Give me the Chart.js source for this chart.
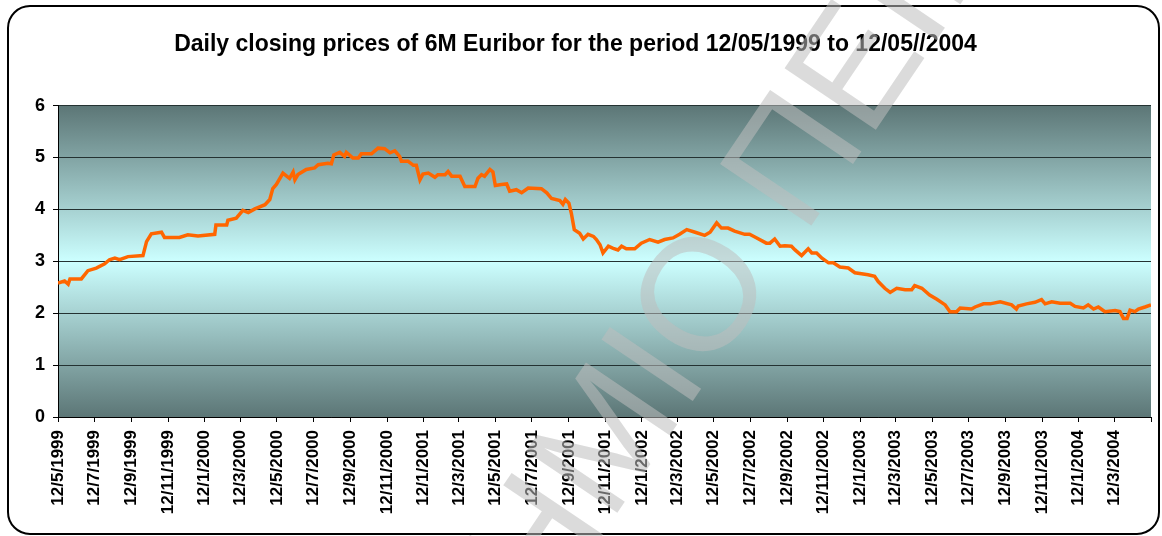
<!DOCTYPE html>
<html>
<head>
<meta charset="utf-8">
<script src="https://cdn.jsdelivr.net/npm/chart.js@4.4.0/dist/chart.umd.min.js"></script>
<style>
    html, body { margin: 0; padding: 0; background: #fff; }
    #wrap { width: 1162px; height: 536px; }
</style>
</head>
<body>
<div id="wrap"><canvas id="euriborChart"></canvas></div>
<script>
// 6M Euribor, daily closes
// x = days since 12/5/1999, y = rate (%)
const startDate = '12/5/1999';
const endDate = '12/5/2004';

const tickLabels = [
    '12/5/1999', '12/7/1999', '12/9/1999', '12/11/1999',
    '12/1/2000', '12/3/2000', '12/5/2000', '12/7/2000', '12/9/2000', '12/11/2000',
    '12/1/2001', '12/3/2001', '12/5/2001', '12/7/2001', '12/9/2001', '12/11/2001',
    '12/1/2002', '12/3/2002', '12/5/2002', '12/7/2002', '12/9/2002', '12/11/2002',
    '12/1/2003', '12/3/2003', '12/5/2003', '12/7/2003', '12/9/2003', '12/11/2003',
    '12/1/2004', '12/3/2004'
];

const days = [
    0, 11, 17, 20, 39, 50, 64, 78, 86, 95,
    103, 117, 142, 148, 156, 173, 178, 203, 217, 234,
    262, 264, 282, 284, 298, 309, 318, 329, 346, 354,
    359, 365, 376, 387, 393, 396, 401, 415, 429, 435,
    451, 457, 461, 471, 479, 482, 493, 502, 507, 524,
    535, 546, 555, 563, 571, 574, 585, 594, 599, 605,
    610, 619, 630, 635, 647, 652, 658, 672, 680, 697,
    702, 708, 713, 722, 727, 731, 741, 750, 755, 766,
    775, 786, 808, 817, 825, 839, 844, 848, 854, 858,
    863, 872, 878, 886, 895, 900, 906, 911, 920, 928,
    936, 942, 950, 964, 975, 989, 1003, 1014, 1028, 1039,
    1051, 1065, 1081, 1090, 1101, 1109, 1120, 1131, 1148, 1156,
    1168, 1184, 1190, 1198, 1207, 1215, 1226, 1232, 1243, 1254,
    1260, 1268, 1277, 1288, 1296, 1307, 1321, 1332, 1343, 1354,
    1365, 1371, 1382, 1391, 1402, 1416, 1427, 1432, 1444, 1457,
    1469, 1483, 1491, 1502, 1508, 1527, 1533, 1547, 1558, 1575,
    1594, 1602, 1605, 1619, 1633, 1644, 1650, 1661, 1675, 1692,
    1700, 1714, 1722, 1731, 1739, 1750, 1767, 1775, 1781, 1787,
    1792, 1800, 1806, 1817, 1827
];

const rates = [
    2.58, 2.62, 2.56, 2.66, 2.66, 2.82, 2.87, 2.95, 3.03, 3.06,
    3.03, 3.09, 3.11, 3.38, 3.53, 3.56, 3.46, 3.46, 3.51, 3.49,
    3.52, 3.70, 3.70, 3.79, 3.83, 3.98, 3.94, 4.01, 4.09, 4.19,
    4.40, 4.48, 4.70, 4.60, 4.72, 4.57, 4.67, 4.77, 4.80, 4.86,
    4.89, 4.88, 5.05, 5.10, 5.02, 5.10, 4.99, 4.99, 5.07, 5.07,
    5.18, 5.17, 5.09, 5.13, 5.02, 4.93, 4.93, 4.85, 4.85, 4.57,
    4.68, 4.70, 4.62, 4.67, 4.67, 4.73, 4.64, 4.64, 4.44, 4.44,
    4.60, 4.67, 4.64, 4.77, 4.72, 4.46, 4.48, 4.49, 4.35, 4.38,
    4.32, 4.41, 4.40, 4.32, 4.21, 4.17, 4.10, 4.19, 4.12, 3.93,
    3.61, 3.54, 3.43, 3.52, 3.48, 3.42, 3.32, 3.16, 3.29, 3.25,
    3.22, 3.29, 3.24, 3.24, 3.35, 3.42, 3.37, 3.42, 3.45, 3.52,
    3.61, 3.56, 3.50, 3.56, 3.74, 3.64, 3.64, 3.58, 3.52, 3.52,
    3.45, 3.35, 3.35, 3.43, 3.29, 3.30, 3.29, 3.22, 3.11, 3.24,
    3.16, 3.16, 3.06, 2.97, 2.97, 2.89, 2.87, 2.78, 2.76, 2.74,
    2.71, 2.61, 2.48, 2.40, 2.48, 2.45, 2.45, 2.53, 2.48, 2.35,
    2.27, 2.16, 2.03, 2.03, 2.10, 2.08, 2.12, 2.18, 2.18, 2.22,
    2.16, 2.08, 2.14, 2.18, 2.21, 2.26, 2.18, 2.22, 2.19, 2.19,
    2.13, 2.10, 2.16, 2.08, 2.12, 2.03, 2.05, 2.03, 1.90, 1.90,
    2.06, 2.03, 2.08, 2.12, 2.16
];

const yTicks = [0, 1, 2, 3, 4, 5, 6];
const watermarkText = 'ΠΑΝΕΠΙΣΤΗΜΙΟ ΠΕΙΡΑΙΩΣ';

function dayOffset(s) {
    const [d, m, y] = s.split('/').map(Number);
    const [d0, m0, y0] = startDate.split('/').map(Number);
    return Math.round((Date.UTC(y, m - 1, d) - Date.UTC(y0, m0 - 1, d0)) / 86400000);
}

const tickDays = tickLabels.map(dayOffset).concat([dayOffset(endDate)]);

// gradient plot area, rounded frame and the grey watermark of the source document
const decorations = {
    id: 'decorations',
    beforeDraw(chart) {
        const { ctx, chartArea: a, width, height } = chart;
        ctx.save();
        ctx.fillStyle = '#ffffff';
        ctx.fillRect(0, 0, width, height);
        const g = ctx.createLinearGradient(0, a.top, 0, a.bottom);
        g.addColorStop(0, '#5c7676');
        g.addColorStop(0.5, '#ccffff');
        g.addColorStop(1, '#5c7676');
        ctx.fillStyle = g;
        ctx.fillRect(a.left, a.top, a.right - a.left, a.bottom - a.top);
        ctx.restore();
    },
    afterDraw(chart) {
        const ctx = chart.ctx;
        ctx.save();
        ctx.lineWidth = 2;
        ctx.strokeStyle = '#000';
        ctx.beginPath();
        ctx.roundRect(8, 6, 1151, 528, 22);
        ctx.stroke();

        ctx.font = '160px "Liberation Sans", Arial, sans-serif';
        const pre = ctx.measureText(watermarkText.slice(0, 11)).width;
        const ow = ctx.measureText(watermarkText[11]).width;
        ctx.translate(697, 293);
        ctx.rotate(-56 * Math.PI / 180);
        ctx.fillStyle = 'rgba(190, 190, 190, 0.55)';
        ctx.fillText(watermarkText, -(pre + ow / 2), 57);
        ctx.restore();
    }
};

const ctx = document.getElementById('euriborChart').getContext('2d');

new Chart(ctx, {
    type: 'line',
    data: {
        datasets: [{
            label: '6M Euribor',
            data: days.map((d, i) => ({ x: d, y: rates[i] })),
            borderColor: '#ff6600',
            borderWidth: 3.5,
            pointRadius: 0,
            tension: 0
        }]
    },
    options: {
        responsive: true,
        maintainAspectRatio: false,
        animation: false,
        layout: {
            padding: { left: 0, right: 11, top: 0, bottom: 0 }
        },
        scales: {
            x: {
                type: 'linear',
                min: 0,
                max: dayOffset(endDate),
                afterBuildTicks: scale => {
                    scale.ticks = tickDays.map(v => ({ value: v }));
                },
                afterFit: scale => {
                    scale.height = 119;
                    scale.paddingLeft = 0;
                    scale.paddingRight = 0;
                },
                ticks: {
                    autoSkip: false,
                    maxRotation: 90,
                    minRotation: 90,
                    padding: 8,
                    color: '#000',
                    font: { family: "'Liberation Sans', Arial, sans-serif", size: 17, weight: 'bold' },
                    callback: (value, index) => tickLabels[index] || ''
                },
                grid: {
                    drawOnChartArea: false,
                    drawTicks: true,
                    tickLength: 5,
                    color: '#000'
                },
                border: { display: true, color: '#000', width: 1 }
            },
            y: {
                min: 0,
                max: 6,
                afterBuildTicks: scale => {
                    scale.ticks = yTicks.map(v => ({ value: v }));
                },
                afterFit: scale => {
                    scale.width = 58;
                },
                ticks: {
                    padding: 8,
                    color: '#000',
                    font: { family: "'Liberation Sans', Arial, sans-serif", size: 18, weight: 'bold' }
                },
                grid: {
                    color: '#243232',
                    lineWidth: 1,
                    tickColor: '#000',
                    tickLength: 5
                },
                border: { display: true, color: '#000', width: 1 }
            }
        },
        plugins: {
            legend: { display: false },
            tooltip: { enabled: false },
            title: {
                display: true,
                text: 'Daily closing prices of 6M Euribor for the period 12/05/1999 to 12/05//2004',
                color: '#000',
                font: { family: "'Liberation Sans', Arial, sans-serif", size: 23, weight: 'bold' },
                padding: { top: 31, bottom: 47 }
            }
        }
    },
    plugins: [decorations]
});
</script>
</body>
</html>
